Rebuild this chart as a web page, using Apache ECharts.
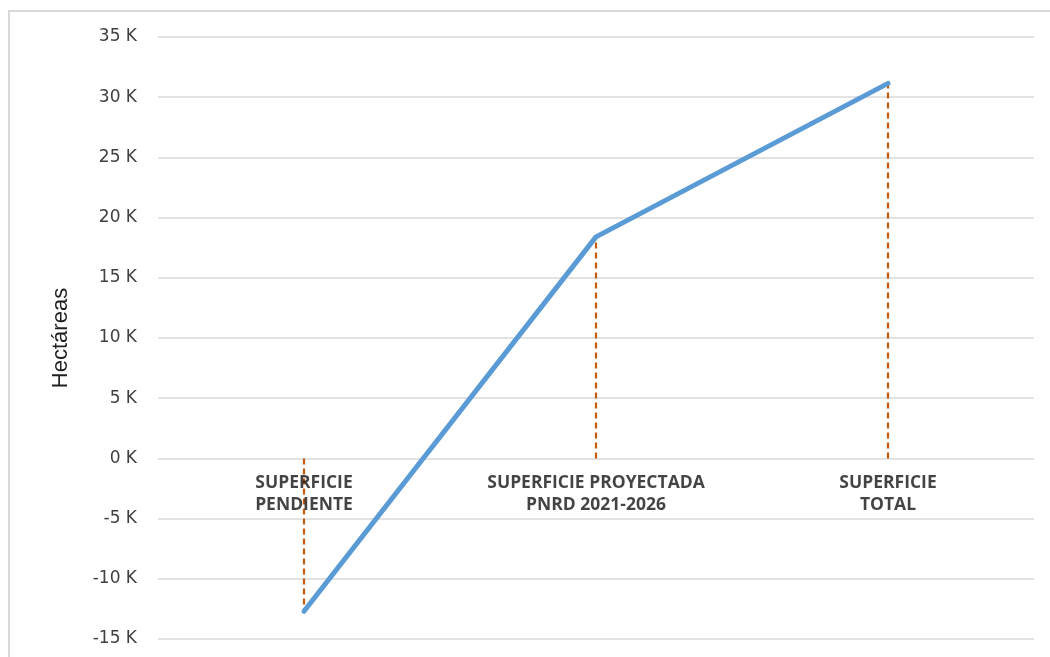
<!DOCTYPE html>
<html>
<head>
<meta charset="utf-8">
<script src="https://cdn.jsdelivr.net/npm/echarts@6/dist/echarts.min.js"></script>
<style>
  html, body { margin: 0; padding: 0; background: #fff; }
  #chart { width: 1050px; height: 657px; }
</style>
</head>
<body>
<div id="chart"></div>
<script>
// Superficie (hectáreas) por etapa
const categories = ['SUPERFICIE\nPENDIENTE', 'SUPERFICIE PROYECTADA\nPNRD 2021-2026', 'SUPERFICIE\nTOTAL'];
const hectareas = [-12700, 18400, 31150];
const yMin = -15000;
const yMax = 35000;
const yStep = 5000;

const chart = echarts.init(document.getElementById('chart'));

// Drop lines from each point to the zero line
const dropLines = hectareas.map((v, i) => [
  { coord: [i, 0] },
  { coord: [i, v] }
]);

// Category names sit just under the zero line
const categoryLabels = categories.map((c, i) => ({ value: [i, 0], name: c }));

chart.setOption({
  animation: false,
  graphic: [{
    type: 'rect',
    shape: { x: 9, y: 11, width: 1100, height: 700 },
    style: { fill: 'none', stroke: '#d9d9d9', lineWidth: 2 },
    silent: true
  }],
  grid: { left: 158, right: 16, top: 37, bottom: 18, containLabel: false, outerBoundsMode: 'none' },
  xAxis: {
    type: 'category',
    data: categories,
    boundaryGap: true,
    axisLine: { show: false },
    axisTick: { show: false },
    axisLabel: { show: false }
  },
  yAxis: {
    type: 'value',
    min: yMin,
    max: yMax,
    interval: yStep,
    name: 'Hectáreas',
    nameLocation: 'middle',
    nameGap: 86,
    nameRotate: 90,
    nameTextStyle: { fontFamily: 'Liberation Sans, sans-serif', fontSize: 22, color: '#1f1f1f' },
    axisLine: { show: false },
    axisTick: { show: false },
    splitLine: { lineStyle: { color: '#d9d9d9', width: 1.6 } },
    axisLabel: {
      margin: 21,
      fontFamily: 'DejaVu Sans, sans-serif',
      fontSize: 17,
      color: '#404040',
      formatter: v => (v / 1000) + ' K'
    }
  },
  series: [{
    type: 'line',
    data: hectareas,
    symbol: 'none',
    lineStyle: { color: '#5b9bd5', width: 5, cap: 'round', join: 'round' },
    z: 3,
    markLine: {
      silent: true,
      symbol: ['none', 'none'],
      label: { show: false },
      lineStyle: { color: '#c55a11', type: [6, 4], width: 2.2 },
      data: dropLines,
      z: 2
    }
  }, {
    type: 'scatter',
    data: categoryLabels,
    symbolSize: 0,
    silent: true,
    z: 4,
    label: {
      show: true,
      position: 'bottom',
      distance: 14,
      formatter: p => p.name,
      fontFamily: 'Open Sans, DejaVu Sans, sans-serif',
      fontWeight: 'bold',
      fontSize: 17.5,
      lineHeight: 22,
      align: 'center',
      color: '#141414'
    }
  }]
});
</script>
</body>
</html>
